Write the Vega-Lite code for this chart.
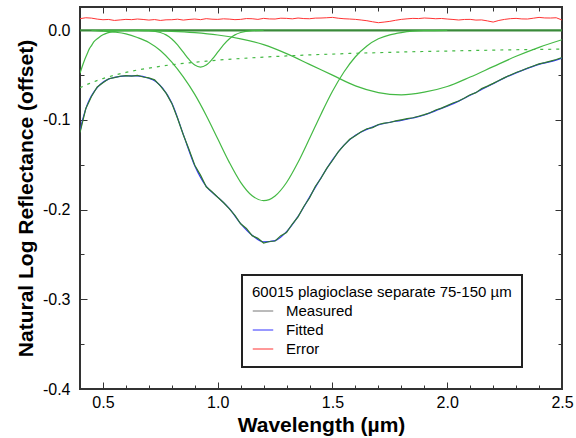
{
  "$schema": "https://vega.github.io/schema/vega-lite/v6.json",
  "width": 482,
  "height": 382,
  "autosize": {"type": "none"},
  "padding": {"left": 80, "top": 7, "right": 14, "bottom": 49},
  "background": "white",
  "config": {
    "font": "Liberation Sans",
    "view": {"stroke": "#333333", "strokeWidth": 2},
    "axis": {"grid": false, "domain": false, "labelColor": "black", "titleColor": "black", "tickColor": "#333333", "labelFont": "Liberation Sans", "titleFont": "Liberation Sans"}
  },
  "datasets": {
    "zero": [{"x": 0.4, "y": 0}, {"x": 2.5, "y": 0}],
    "error": [
      {"x":0.400,"y":0.0130},{"x":0.425,"y":0.0140},{"x":0.450,"y":0.0136},{"x":0.475,"y":0.0125},{"x":0.500,"y":0.0118},{"x":0.525,"y":0.0121},{"x":0.550,"y":0.0110},{"x":0.575,"y":0.0116},{"x":0.600,"y":0.0122},{"x":0.625,"y":0.0119},{"x":0.650,"y":0.0126},{"x":0.675,"y":0.0121},{"x":0.700,"y":0.0114},{"x":0.725,"y":0.0120},{"x":0.750,"y":0.0110},{"x":0.775,"y":0.0117},{"x":0.800,"y":0.0118},{"x":0.825,"y":0.0124},{"x":0.850,"y":0.0114},{"x":0.875,"y":0.0121},{"x":0.900,"y":0.0126},{"x":0.925,"y":0.0119},{"x":0.950,"y":0.0130},{"x":0.975,"y":0.0124},{"x":1.000,"y":0.0122},{"x":1.025,"y":0.0128},{"x":1.050,"y":0.0125},{"x":1.075,"y":0.0119},{"x":1.100,"y":0.0122},{"x":1.125,"y":0.0131},{"x":1.150,"y":0.0129},{"x":1.175,"y":0.0122},{"x":1.200,"y":0.0133},{"x":1.225,"y":0.0127},{"x":1.250,"y":0.0126},{"x":1.275,"y":0.0135},{"x":1.300,"y":0.0133},{"x":1.325,"y":0.0128},{"x":1.350,"y":0.0137},{"x":1.375,"y":0.0131},{"x":1.400,"y":0.0129},{"x":1.425,"y":0.0136},{"x":1.450,"y":0.0137},{"x":1.475,"y":0.0140},{"x":1.500,"y":0.0144},{"x":1.525,"y":0.0135},{"x":1.550,"y":0.0129},{"x":1.575,"y":0.0126},{"x":1.600,"y":0.0122},{"x":1.625,"y":0.0115},{"x":1.650,"y":0.0107},{"x":1.675,"y":0.0095},{"x":1.700,"y":0.0085},{"x":1.725,"y":0.0092},{"x":1.750,"y":0.0100},{"x":1.775,"y":0.0112},{"x":1.800,"y":0.0122},{"x":1.825,"y":0.0128},{"x":1.850,"y":0.0133},{"x":1.875,"y":0.0131},{"x":1.900,"y":0.0137},{"x":1.925,"y":0.0134},{"x":1.950,"y":0.0129},{"x":1.975,"y":0.0132},{"x":2.000,"y":0.0126},{"x":2.025,"y":0.0121},{"x":2.050,"y":0.0115},{"x":2.075,"y":0.0121},{"x":2.100,"y":0.0122},{"x":2.125,"y":0.0114},{"x":2.150,"y":0.0116},{"x":2.175,"y":0.0105},{"x":2.200,"y":0.0092},{"x":2.225,"y":0.0110},{"x":2.250,"y":0.0122},{"x":2.275,"y":0.0130},{"x":2.300,"y":0.0133},{"x":2.325,"y":0.0127},{"x":2.350,"y":0.0126},{"x":2.375,"y":0.0135},{"x":2.400,"y":0.0144},{"x":2.425,"y":0.0138},{"x":2.450,"y":0.0137},{"x":2.475,"y":0.0140},{"x":2.500,"y":0.0115}
    ],
    "continuum": [
      {"x":0.40,"y":-0.0641},{"x":0.42,"y":-0.0616},{"x":0.44,"y":-0.0594},{"x":0.46,"y":-0.0574},{"x":0.48,"y":-0.0555},{"x":0.50,"y":-0.0538},{"x":0.55,"y":-0.0501},{"x":0.60,"y":-0.0470},{"x":0.65,"y":-0.0443},{"x":0.70,"y":-0.0421},{"x":0.75,"y":-0.0401},{"x":0.80,"y":-0.0384},{"x":0.85,"y":-0.0369},{"x":0.90,"y":-0.0356},{"x":0.95,"y":-0.0344},{"x":1.00,"y":-0.0333},{"x":1.10,"y":-0.0314},{"x":1.20,"y":-0.0299},{"x":1.30,"y":-0.0286},{"x":1.40,"y":-0.0274},{"x":1.50,"y":-0.0265},{"x":1.60,"y":-0.0256},{"x":1.70,"y":-0.0249},{"x":1.80,"y":-0.0242},{"x":1.90,"y":-0.0236},{"x":2.00,"y":-0.0231},{"x":2.10,"y":-0.0226},{"x":2.20,"y":-0.0221},{"x":2.30,"y":-0.0217},{"x":2.40,"y":-0.0213},{"x":2.50,"y":-0.0210}
    ],
    "bands": [
      {"b":"uv","x":0.40,"y":-0.048},{"b":"uv","x":0.41,"y":-0.040},{"b":"uv","x":0.42,"y":-0.033},{"b":"uv","x":0.43,"y":-0.027},{"b":"uv","x":0.44,"y":-0.021},{"b":"uv","x":0.45,"y":-0.017},{"b":"uv","x":0.46,"y":-0.013},{"b":"uv","x":0.48,"y":-0.0085},{"b":"uv","x":0.50,"y":-0.005},{"b":"uv","x":0.52,"y":-0.0028},{"b":"uv","x":0.55,"y":-0.0012},{"b":"uv","x":0.60,"y":-0.0003},{"b":"uv","x":0.65,"y":0},
      {"b":"a","x":0.45,"y":0},{"b":"a","x":0.50,"y":-0.0008},{"b":"a","x":0.55,"y":-0.002},{"b":"a","x":0.60,"y":-0.004},{"b":"a","x":0.65,"y":-0.008},{"b":"a","x":0.70,"y":-0.0135},{"b":"a","x":0.75,"y":-0.0225},{"b":"a","x":0.80,"y":-0.0355},{"b":"a","x":0.85,"y":-0.052},{"b":"a","x":0.90,"y":-0.0715},{"b":"a","x":0.95,"y":-0.095},{"b":"a","x":1.00,"y":-0.121},{"b":"a","x":1.05,"y":-0.147},{"b":"a","x":1.10,"y":-0.1695},{"b":"a","x":1.15,"y":-0.1845},{"b":"a","x":1.20,"y":-0.190},{"b":"a","x":1.25,"y":-0.1847},{"b":"a","x":1.30,"y":-0.1697},{"b":"a","x":1.35,"y":-0.1472},{"b":"a","x":1.40,"y":-0.1207},{"b":"a","x":1.45,"y":-0.0935},{"b":"a","x":1.50,"y":-0.068},{"b":"a","x":1.55,"y":-0.0465},{"b":"a","x":1.60,"y":-0.0295},{"b":"a","x":1.65,"y":-0.0175},{"b":"a","x":1.70,"y":-0.0095},{"b":"a","x":1.75,"y":-0.005},{"b":"a","x":1.80,"y":-0.0025},{"b":"a","x":1.85,"y":-0.001},{"b":"a","x":1.90,"y":-0.0004},{"b":"a","x":2.00,"y":0},
      {"b":"c","x":0.65,"y":0},{"b":"c","x":0.70,"y":-0.0004},{"b":"c","x":0.75,"y":-0.0024},{"b":"c","x":0.775,"y":-0.0051},{"b":"c","x":0.80,"y":-0.0096},{"b":"c","x":0.825,"y":-0.0162},{"b":"c","x":0.85,"y":-0.0244},{"b":"c","x":0.875,"y":-0.0325},{"b":"c","x":0.90,"y":-0.0387},{"b":"c","x":0.925,"y":-0.041},{"b":"c","x":0.95,"y":-0.0387},{"b":"c","x":0.975,"y":-0.0325},{"b":"c","x":1.00,"y":-0.0244},{"b":"c","x":1.025,"y":-0.0162},{"b":"c","x":1.05,"y":-0.0096},{"b":"c","x":1.075,"y":-0.0051},{"b":"c","x":1.10,"y":-0.0024},{"b":"c","x":1.15,"y":-0.0004},{"b":"c","x":1.20,"y":0},
      {"b":"b","x":0.50,"y":0},{"b":"b","x":0.60,"y":-0.0001},{"b":"b","x":0.70,"y":-0.0004},{"b":"b","x":0.80,"y":-0.0011},{"b":"b","x":0.90,"y":-0.0026},{"b":"b","x":1.00,"y":-0.0052},{"b":"b","x":1.10,"y":-0.0095},{"b":"b","x":1.20,"y":-0.016},{"b":"b","x":1.30,"y":-0.026},{"b":"b","x":1.40,"y":-0.038},{"b":"b","x":1.50,"y":-0.050},{"b":"b","x":1.60,"y":-0.062},{"b":"b","x":1.70,"y":-0.0695},{"b":"b","x":1.80,"y":-0.072},{"b":"b","x":1.90,"y":-0.069},{"b":"b","x":2.00,"y":-0.0627},{"b":"b","x":2.10,"y":-0.0521},{"b":"b","x":2.20,"y":-0.0405},{"b":"b","x":2.30,"y":-0.029},{"b":"b","x":2.40,"y":-0.019},{"b":"b","x":2.50,"y":-0.0105}
    ],
    "fitted": [
      {"x":0.40,"y":-0.113},{"x":0.41,"y":-0.101},{"x":0.42,"y":-0.092},{"x":0.43,"y":-0.084},{"x":0.44,"y":-0.078},{"x":0.46,"y":-0.069},{"x":0.48,"y":-0.0625},{"x":0.50,"y":-0.058},{"x":0.52,"y":-0.055},{"x":0.55,"y":-0.0525},{"x":0.60,"y":-0.0508},{"x":0.65,"y":-0.0508},{"x":0.70,"y":-0.0535},{"x":0.73,"y":-0.057},{"x":0.76,"y":-0.0645},{"x":0.80,"y":-0.081},{"x":0.85,"y":-0.116},{"x":0.90,"y":-0.151},{"x":0.95,"y":-0.174},{"x":1.00,"y":-0.186},{"x":1.05,"y":-0.1985},{"x":1.10,"y":-0.2155},{"x":1.15,"y":-0.2285},{"x":1.20,"y":-0.236},{"x":1.25,"y":-0.2345},{"x":1.30,"y":-0.2245},{"x":1.35,"y":-0.2075},{"x":1.40,"y":-0.186},{"x":1.45,"y":-0.1645},{"x":1.50,"y":-0.1445},{"x":1.55,"y":-0.128},{"x":1.60,"y":-0.117},{"x":1.65,"y":-0.1105},{"x":1.70,"y":-0.1055},{"x":1.75,"y":-0.1025},{"x":1.80,"y":-0.1005},{"x":1.85,"y":-0.0978},{"x":1.90,"y":-0.0945},{"x":1.95,"y":-0.0895},{"x":2.00,"y":-0.0845},{"x":2.05,"y":-0.079},{"x":2.10,"y":-0.0725},{"x":2.15,"y":-0.066},{"x":2.20,"y":-0.0595},{"x":2.25,"y":-0.053},{"x":2.30,"y":-0.0475},{"x":2.35,"y":-0.0425},{"x":2.40,"y":-0.038},{"x":2.45,"y":-0.035},{"x":2.50,"y":-0.031}
    ],
    "measured": [
      {"x":0.400,"y":-0.1140},{"x":0.425,"y":-0.0875},{"x":0.450,"y":-0.0738},{"x":0.475,"y":-0.0632},{"x":0.500,"y":-0.0585},{"x":0.525,"y":-0.0540},{"x":0.550,"y":-0.0528},{"x":0.575,"y":-0.0512},{"x":0.600,"y":-0.0505},{"x":0.625,"y":-0.0510},{"x":0.650,"y":-0.0503},{"x":0.675,"y":-0.0521},{"x":0.700,"y":-0.0530},{"x":0.725,"y":-0.0552},{"x":0.750,"y":-0.0620},{"x":0.775,"y":-0.0700},{"x":0.800,"y":-0.0815},{"x":0.825,"y":-0.0980},{"x":0.850,"y":-0.1165},{"x":0.875,"y":-0.1330},{"x":0.900,"y":-0.1505},{"x":0.925,"y":-0.1615},{"x":0.950,"y":-0.1745},{"x":0.975,"y":-0.1800},{"x":1.000,"y":-0.1862},{"x":1.025,"y":-0.1920},{"x":1.050,"y":-0.1988},{"x":1.075,"y":-0.2065},{"x":1.100,"y":-0.2158},{"x":1.125,"y":-0.2210},{"x":1.150,"y":-0.2290},{"x":1.175,"y":-0.2320},{"x":1.200,"y":-0.2372},{"x":1.225,"y":-0.2355},{"x":1.250,"y":-0.2350},{"x":1.275,"y":-0.2290},{"x":1.300,"y":-0.2255},{"x":1.325,"y":-0.2160},{"x":1.350,"y":-0.2080},{"x":1.375,"y":-0.1965},{"x":1.400,"y":-0.1870},{"x":1.425,"y":-0.1742},{"x":1.450,"y":-0.1650},{"x":1.475,"y":-0.1540},{"x":1.500,"y":-0.1452},{"x":1.525,"y":-0.1355},{"x":1.550,"y":-0.1283},{"x":1.575,"y":-0.1215},{"x":1.600,"y":-0.1175},{"x":1.625,"y":-0.1130},{"x":1.650,"y":-0.1098},{"x":1.675,"y":-0.1085},{"x":1.700,"y":-0.1050},{"x":1.725,"y":-0.1035},{"x":1.750,"y":-0.1028},{"x":1.775,"y":-0.1010},{"x":1.800,"y":-0.0998},{"x":1.825,"y":-0.0985},{"x":1.850,"y":-0.0975},{"x":1.875,"y":-0.0958},{"x":1.900,"y":-0.0940},{"x":1.925,"y":-0.0920},{"x":1.950,"y":-0.0888},{"x":1.975,"y":-0.0868},{"x":2.000,"y":-0.0840},{"x":2.025,"y":-0.0810},{"x":2.050,"y":-0.0788},{"x":2.075,"y":-0.0755},{"x":2.100,"y":-0.0718},{"x":2.125,"y":-0.0695},{"x":2.150,"y":-0.0650},{"x":2.175,"y":-0.0622},{"x":2.200,"y":-0.0592},{"x":2.225,"y":-0.0560},{"x":2.250,"y":-0.0528},{"x":2.275,"y":-0.0498},{"x":2.300,"y":-0.0470},{"x":2.325,"y":-0.0448},{"x":2.350,"y":-0.0420},{"x":2.375,"y":-0.0398},{"x":2.400,"y":-0.0375},{"x":2.425,"y":-0.0360},{"x":2.450,"y":-0.0343},{"x":2.475,"y":-0.0325},{"x":2.500,"y":-0.0305}
    ]
  },
  "resolve": {"axis": {"x": "independent", "y": "independent"}},
  "layer": [
    {
      "data": {"name": "zero"},
      "mark": {"type": "line", "color": "#3a8a3a", "strokeWidth": 2.2, "clip": true},
      "encoding": {
        "x": {"field": "x", "type": "quantitative", "scale": {"domain": [0.4, 2.5], "nice": false, "zero": false},
          "axis": {"orient": "bottom", "values": [0.5, 1.0, 1.5, 2.0, 2.5], "format": ".1f", "ticks": false, "labelFontSize": 16, "labelPadding": 5, "title": "Wavelength (µm)", "titleFontSize": 21, "titleFontWeight": "bold", "titlePadding": 4, "labelFlush": false}},
        "y": {"field": "y", "type": "quantitative", "scale": {"domain": [-0.4, 0.026], "nice": false, "zero": false},
          "axis": {"orient": "left", "values": [0, -0.1, -0.2, -0.3, -0.4], "labelExpr": "datum.value == 0 ? '0.0' : '-' + format(abs(datum.value), '.1f')", "ticks": false, "labelFontSize": 16, "labelPadding": 10, "title": "Natural Log Reflectance (offset)", "titleFontSize": 21, "titleFontWeight": "bold", "titlePadding": 6, "labelFlush": false}}
      }
    },
    {
      "data": {"name": "error"},
      "mark": {"type": "line", "strokeWidth": 1, "clip": true},
      "encoding": {
        "x": {"field": "x", "type": "quantitative", "axis": {"orient": "bottom", "values": [0.5, 1.0, 1.5, 2.0, 2.5], "labels": false, "tickSize": 7, "offset": -7, "title": null}},
        "y": {"field": "y", "type": "quantitative", "axis": {"orient": "left", "values": [0, -0.1, -0.2, -0.3, -0.4], "labels": false, "tickSize": 7, "offset": -7, "title": null}},
        "color": {"datum": "Error", "type": "nominal", "scale": {"domain": ["Measured", "Fitted", "Error"], "range": ["#777777", "#3333ff", "#ff3333"]},
          "legend": {"title": "60015 plagioclase separate 75-150 µm", "titleLimit": 600, "orient": "none", "legendX": 162, "legendY": 268, "strokeColor": "#222222", "padding": 10, "titleFontSize": 15, "titleFontWeight": "normal", "titleColor": "black", "titlePadding": 0, "labelFontSize": 15, "labelColor": "black", "symbolType": "stroke", "symbolSize": 420, "symbolStrokeWidth": 1, "labelOffset": 12, "rowPadding": 0, "fillColor": "white",
            "encode": {"legend": {"update": {"strokeWidth": {"value": 2}}}}}}
      }
    },
    {
      "data": {"name": "continuum"},
      "mark": {"type": "line", "color": "#44b944", "strokeWidth": 1.2, "strokeDash": [3, 5], "interpolate": "monotone", "clip": true},
      "encoding": {
        "x": {"field": "x", "type": "quantitative", "axis": {"orient": "bottom", "values": [0.4, 0.6, 0.7, 0.8, 0.9, 1.1, 1.2, 1.3, 1.4, 1.6, 1.7, 1.8, 1.9, 2.1, 2.2, 2.3, 2.4], "labels": false, "tickSize": 4, "offset": -4, "title": null}},
        "y": {"field": "y", "type": "quantitative", "axis": {"orient": "left", "values": [-0.05, -0.15, -0.25, -0.35], "labels": false, "tickSize": 4, "offset": -4, "title": null}}
      }
    },
    {
      "data": {"name": "bands"},
      "mark": {"type": "line", "color": "#44b944", "strokeWidth": 1.2, "interpolate": "monotone", "clip": true},
      "encoding": {
        "x": {"field": "x", "type": "quantitative", "axis": {"orient": "top", "values": [0.5, 1.0, 1.5, 2.0, 2.5], "labels": false, "tickSize": 6, "offset": -6, "title": null}},
        "y": {"field": "y", "type": "quantitative", "axis": {"orient": "right", "values": [0, -0.1, -0.2, -0.3, -0.4], "labels": false, "tickSize": 7, "offset": -7, "title": null}},
        "detail": {"field": "b", "type": "nominal"}
      }
    },
    {
      "data": {"name": "fitted"},
      "mark": {"type": "line", "strokeWidth": 1.2, "interpolate": "monotone", "clip": true},
      "encoding": {
        "x": {"field": "x", "type": "quantitative", "axis": {"orient": "top", "values": [0.4, 0.6, 0.7, 0.8, 0.9, 1.1, 1.2, 1.3, 1.4, 1.6, 1.7, 1.8, 1.9, 2.1, 2.2, 2.3, 2.4], "labels": false, "tickSize": 4, "offset": -4, "title": null}},
        "y": {"field": "y", "type": "quantitative", "axis": {"orient": "right", "values": [-0.05, -0.15, -0.25, -0.35], "labels": false, "tickSize": 4, "offset": -4, "title": null}},
        "color": {"datum": "Fitted", "type": "nominal"}
      }
    },
    {
      "data": {"name": "measured"},
      "mark": {"type": "line", "color": "#2f7a2f", "strokeWidth": 1.2, "clip": true},
      "encoding": {
        "x": {"field": "x", "type": "quantitative", "axis": null},
        "y": {"field": "y", "type": "quantitative", "axis": null}
      }
    }
  ]
}
